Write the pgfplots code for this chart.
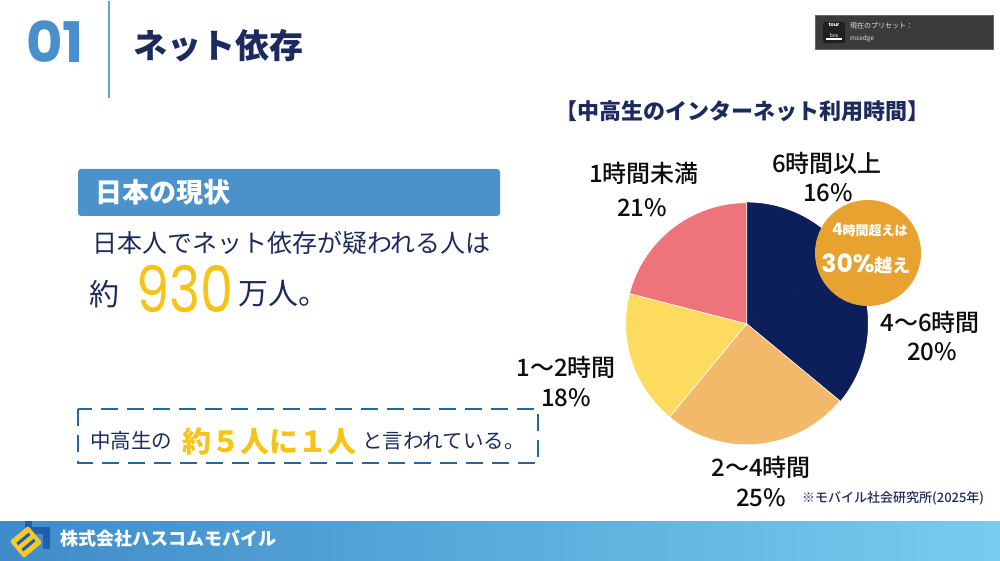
\documentclass[border=0pt]{standalone}
\usepackage{pgfplots}
\usepackage{pgfplotstable}
\pgfplotsset{compat=1.18}
\usepackage{fontspec}
\setmainfont{Noto Sans CJK JP}
\newfontfamily\pop{Poppins}
\IfFontExistsTF{Noto Sans CJK JP Medium}
  {\newfontfamily\jpm{Noto Sans CJK JP Medium}}
  {\newfontfamily\jpm[FakeBold=0.6]{Noto Sans CJK JP}}
\newcommand\fs[1]{\fontsize{#1}{#1}\selectfont}

\definecolor{navytxt}{HTML}{1C2A5E}
\definecolor{hdrblue}{HTML}{4A8FCD}
\definecolor{boxblue}{HTML}{4B92CD}
\definecolor{gold}{HTML}{F6C416}
\definecolor{dashblue}{HTML}{23679F}
\definecolor{pienavy}{HTML}{0C1F5B}
\definecolor{pieorange}{HTML}{F2B96B}
\definecolor{pieyellow}{HTML}{FDDB5E}
\definecolor{piepink}{HTML}{EE737B}
\definecolor{badge}{HTML}{E8A22F}
\definecolor{footL}{HTML}{3F8BC9}
\definecolor{footR}{HTML}{77CCEE}
\definecolor{logoblue}{HTML}{1F5FAE}
\definecolor{logoyellow}{HTML}{F7C82A}

% share of students by daily internet time (%)
\pgfplotstableread{
slice     value
6h        16
4to6h     20
2to4h     25
1to2h     18
under1h   21
}\pietable

\begin{document}
\begin{tikzpicture}[x=1pt,y=-1pt]
% canvas
\fill[white] (0,0) rectangle (1000,560);

% ---------- header ----------
\node[anchor=base west,inner sep=0,text=hdrblue] at (26,62) {\pop\bfseries\fs{56}01};
\draw[hdrblue!85,line width=2pt] (109,0) -- (109,97);
\node[anchor=west,inner sep=0,text=navytxt] at (133,45) {\bfseries\fs{34}ネット依存};

% tool overlay, top right
\fill[black!77] (815,14) rectangle (993,48);
\draw[black!60,line width=0.5pt] (815,14) rectangle (993,48);
\fill[black!88,rounded corners=2pt] (823,21) rectangle (845,42);
\node[inner sep=0,text=white,align=center] at (834,29) {\pop\bfseries\fs{5}tour\\[-1pt]\fs{5}box};
\fill[white] (826,37) rectangle (842,39.5);
\node[anchor=west,inner sep=0,text=black!12] at (850,25) {\fs{7}現在のプリセット：};
\node[anchor=west,inner sep=0,text=black!12] at (850,38) {\fs{6.5}msedge};

% ---------- left panel ----------
\fill[boxblue,rounded corners=3pt] (78,168) rectangle (500,215);
\node[anchor=west,inner sep=0,text=white] at (95,191) {\bfseries\fs{27}日本の現状};
\node[anchor=west,inner sep=0,text=navytxt] at (92,242) {\fs{25}日本人でネット依存が疑われる人は};
\node[anchor=west,inner sep=0,text=navytxt] at (89,293) {\fs{30}約};
\node[anchor=base west,inner sep=0,text=gold,xscale=0.82] at (136,311) {\pop\fs{64}930};
\node[anchor=west,inner sep=0,text=navytxt] at (238,293) {\fs{30}万人。};

\draw[dashblue,line width=2.5pt,dash pattern=on 17pt off 9pt] (78,408) rectangle (538,462);
\node[anchor=west,inner sep=0,text=navytxt] at (90,440) {\fs{20.5}中高生の};
\node[anchor=west,inner sep=0,text=gold] at (182,440) {\bfseries\fs{29}約５人に１人};
\node[anchor=west,inner sep=0,text=navytxt] at (362,440) {\fs{20.5}と言われている。};

% ---------- pie chart ----------
\node[inner sep=0,text=navytxt] at (742,110) {\bfseries\fs{22}【中高生のインターネット利用時間】};

\pgfplotstablegetelem{0}{value}\of\pietable \pgfmathsetmacro\aB{90-3.6*\pgfplotsretval}
\pgfplotstablegetelem{1}{value}\of\pietable \pgfmathsetmacro\aC{\aB-3.6*\pgfplotsretval}
\pgfplotstablegetelem{2}{value}\of\pietable \pgfmathsetmacro\aD{\aC-3.6*\pgfplotsretval}
\pgfplotstablegetelem{3}{value}\of\pietable \pgfmathsetmacro\aE{\aD-3.6*\pgfplotsretval}
\pgfplotstablegetelem{4}{value}\of\pietable \pgfmathsetmacro\aF{\aE-3.6*\pgfplotsretval}

\begin{axis}[at={(746.7pt,-322.7pt)},anchor=center,hide axis,scale only axis,
  width=242pt,height=242pt,xmin=-1,xmax=1,ymin=-1,ymax=1,clip=false,no markers]
\addplot[fill=pienavy,draw=pienavy,line width=0.5pt,domain=\aB:90,samples=50,variable=\t]
  ({cos(\t)},{sin(\t)}) -- (axis cs:0,0) -- cycle;
\addplot[fill=pienavy,draw=pienavy,line width=0.5pt,domain=\aC:\aB,samples=50,variable=\t]
  ({cos(\t)},{sin(\t)}) -- (axis cs:0,0) -- cycle;
\addplot[fill=pieorange,draw=white,line width=0.6pt,domain=\aD:\aC,samples=50,variable=\t]
  ({cos(\t)},{sin(\t)}) -- (axis cs:0,0) -- cycle;
\addplot[fill=pieyellow,draw=white,line width=0.6pt,domain=\aE:\aD,samples=50,variable=\t]
  ({cos(\t)},{sin(\t)}) -- (axis cs:0,0) -- cycle;
\addplot[fill=piepink,draw=white,line width=0.6pt,domain=\aF:\aE,samples=50,variable=\t]
  ({cos(\t)},{sin(\t)}) -- (axis cs:0,0) -- cycle;
\end{axis}

% slice labels
\begin{scope}[every node/.style={inner sep=0,text=black!95}]
\node at (644,172) {\jpm\fs{24}1時間未満};
\node at (642,207) {\jpm\fs{24}21\%};
\node at (827,162) {\jpm\fs{24}6時間以上};
\node at (828,192) {\jpm\fs{24}16\%};
\node at (930,321) {\jpm\fs{24}4〜6時間};
\node at (932,351) {\jpm\fs{24}20\%};
\node at (566,366) {\jpm\fs{24}1〜2時間};
\node at (566,397) {\jpm\fs{24}18\%};
\node at (761,466) {\jpm\fs{24}2〜4時間};
\node at (761,497) {\jpm\fs{24}25\%};
\end{scope}
\node[anchor=west,inner sep=0,text=navytxt] at (802,497) {\jpm\fs{13}※モバイル社会研究所(2025年)};

% badge
\fill[badge] (868,252) circle[radius=53];
\node[inner sep=0,text=white] at (870,229) {\bfseries{\fs{17}4}{\fs{13}時間超えは}};
\node[inner sep=0,text=white] at (866,263) {\bfseries{\pop\fs{25}30\%}{\fs{18}越え}};

% ---------- footer ----------
\shade[left color=footL,right color=footR] (0,520) rectangle (1000,560);
\fill[logoblue] (25,520) rectangle (32,548);
\fill[logoblue] (25,526) rectangle (50,533);
\fill[logoblue] (43,526) rectangle (50,548);
\begin{scope}[shift={(26,541)},rotate=40]
  \fill[logoyellow,rounded corners=2pt] (-12,-11) rectangle (12,11);
  \fill[logoblue] (-8,-5.5) rectangle (8,-2.5);
  \fill[logoblue] (-8,2.5) rectangle (8,5.5);
\end{scope}
\node[anchor=west,inner sep=0,text=white] at (60,538) {\bfseries\fs{18}株式会社ハスコムモバイル};
\end{tikzpicture}
\end{document}
